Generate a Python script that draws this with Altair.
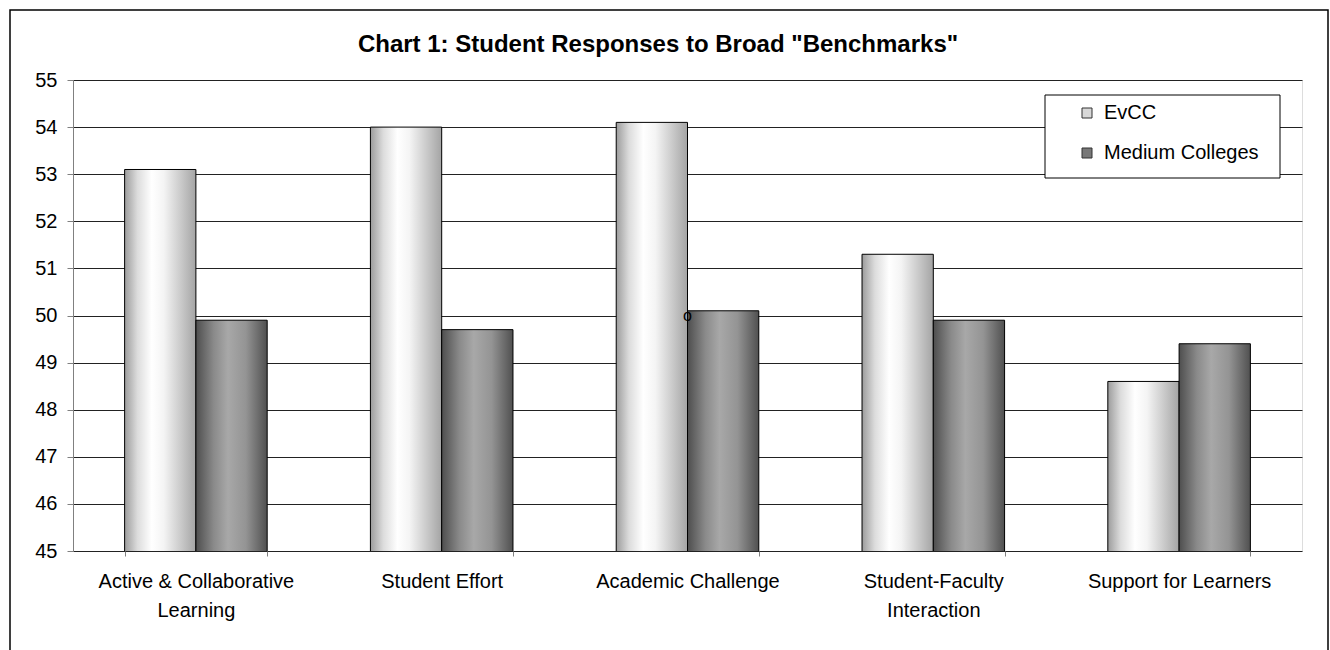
import altair as alt
import pandas as pd

categories = ["Active & Collaborative Learning", "Student Effort", "Academic Challenge",
              "Student-Faculty Interaction", "Support for Learners"]
label_lines = ["Active & Collaborative|Learning", "Student Effort", "Academic Challenge",
               "Student-Faculty|Interaction", "Support for Learners"]
series = ["EvCC", "Medium Colleges"]
evcc = [53.1, 54.0, 54.1, 51.3, 48.6]
medium = [49.9, 49.7, 50.1, 49.9, 49.4]
y_ticks = list(range(45, 56))
title_text = 'Chart 1: Student Responses to Broad "Benchmarks"'

rows = []
for c, lab, a, b in zip(categories, label_lines, evcc, medium):
    rows.append({"cat": lab, "series": series[0], "value": a})
    rows.append({"cat": lab, "series": series[1], "value": b})
df = pd.DataFrame(rows)

FONT = "Liberation Sans"

x_enc = alt.X("cat:N", sort=label_lines,
              scale=alt.Scale(paddingInner=0.42, paddingOuter=0.21),
              axis=alt.Axis(title=None, labelAngle=0, labelFontSize=20, labelFont=FONT,
                            labelColor="black", labelExpr="split(datum.label, '|')",
                            labelLineHeight=29, labelPadding=15, tickBand="extent",
                            tickSize=5, tickColor="#808080", domain=False, grid=False,
                            labelLimit=400))
y_enc = alt.Y("value:Q", scale=alt.Scale(domain=[45, 55], nice=False, zero=False),
              axis=alt.Axis(title=None, values=y_ticks, labelFontSize=20, labelFont=FONT,
                            labelColor="black", tickSize=6, tickColor="#808080",
                            domainColor="#808080", gridColor="#222222", gridWidth=1,
                            labelPadding=10))
xo = alt.XOffset("series:N", sort=series, scale=alt.Scale(domain=series, paddingInner=0, paddingOuter=0))

grad_light = alt.Gradient(gradient="linear", x1=0, x2=1, y1=0, y2=0, stops=[
    alt.GradientStop(color="#9c9c9c", offset=0),
    alt.GradientStop(color="#dcdcdc", offset=0.18),
    alt.GradientStop(color="#ffffff", offset=0.38),
    alt.GradientStop(color="#f4f4f4", offset=0.55),
    alt.GradientStop(color="#c8c8c8", offset=0.8),
    alt.GradientStop(color="#a4a4a4", offset=1)])
grad_dark = alt.Gradient(gradient="linear", x1=0, x2=1, y1=0, y2=0, stops=[
    alt.GradientStop(color="#4e4e4e", offset=0),
    alt.GradientStop(color="#8a8a8a", offset=0.25),
    alt.GradientStop(color="#a8a8a8", offset=0.45),
    alt.GradientStop(color="#949494", offset=0.7),
    alt.GradientStop(color="#505050", offset=1)])

base = alt.Chart(df)
one = pd.DataFrame({"a": [0]})

frame = alt.Chart(one).mark_rect(
    fill=None, stroke="black", strokeWidth=1.5).encode(
    x=alt.value(-63), x2=alt.value(1255), y=alt.value(-70), y2=alt.value(640))

title = alt.Chart(pd.DataFrame({"t": [title_text]})).mark_text(
    fontSize=24, font=FONT, fontWeight="bold", color="black", align="center",
    baseline="alphabetic").encode(x=alt.value(585), y=alt.value(-28), text="t:N")

bars_a = base.transform_filter(alt.datum.series == series[0]).mark_bar(
    fill=grad_light, stroke="black", strokeWidth=1, clip=True).encode(x=x_enc, y=y_enc, xOffset=xo)
bars_b = base.transform_filter(alt.datum.series == series[1]).mark_bar(
    fill=grad_dark, stroke="black", strokeWidth=1, clip=True).encode(x=x_enc, y=y_enc, xOffset=xo)

legend_layer = base.mark_square(opacity=0).encode(
    x=x_enc, y=y_enc, xOffset=xo,
    color=alt.Color("series:N", sort=series,
                    scale=alt.Scale(domain=series, range=["#d8d8d8", "#787878"]),
                    legend=alt.Legend(title=None, orient="none", legendX=1004, legendY=23,
                                      symbolType="square", symbolSize=100, symbolOpacity=1,
                                      symbolStrokeColor="#333333", symbolStrokeWidth=1,
                                      labelFontSize=20, labelFont=FONT, labelColor="black",
                                      labelOffset=7, rowPadding=20, padding=0)))

legend_box = alt.Chart(one).mark_rect(
    fill="white", stroke="black", strokeWidth=1).encode(
    x=alt.value(972), x2=alt.value(1207), y=alt.value(15), y2=alt.value(98))

stray = alt.Chart(pd.DataFrame({"cat": [label_lines[2]], "value": [50.0], "t": ["o"]})).mark_text(
    fontSize=16, font=FONT, color="black").encode(x=x_enc, y=y_enc, text="t:N")

chart = alt.layer(frame, title, bars_a, bars_b, legend_layer, legend_box, stray).properties(
    width=1229, height=471,
    autosize=alt.AutoSizeParams(type="none"),
    padding={"left": 73, "top": 80, "right": 28, "bottom": 99},
).configure_view(stroke="#808080", strokeWidth=1).configure(background="white")

chart.save("out.html", embed_options={"renderer": "svg", "actions": False})
